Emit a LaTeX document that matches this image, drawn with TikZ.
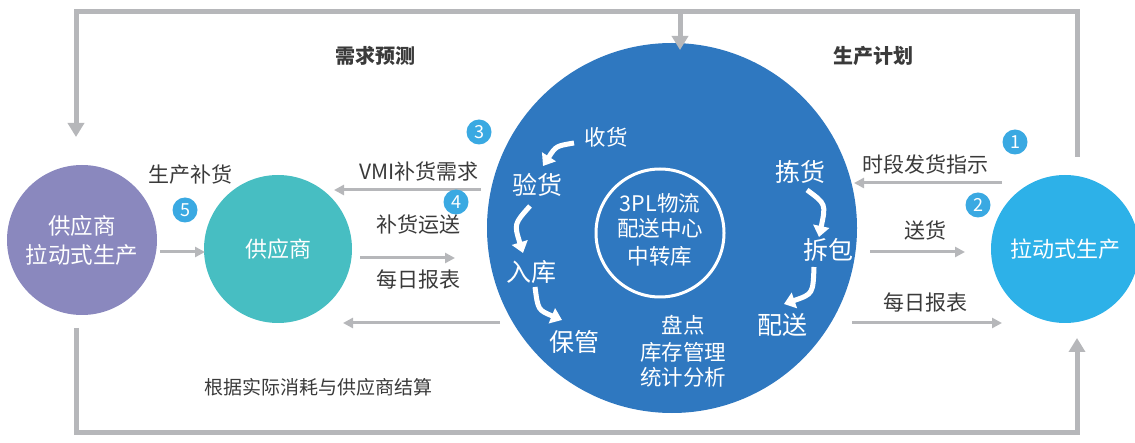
\documentclass[tikz,border=0pt]{standalone}
\usepackage{fontspec}
\setmainfont{Noto Sans CJK SC}
\usetikzlibrary{arrows.meta}
\definecolor{bigblue}{HTML}{2F78C0}
\definecolor{purplec}{HTML}{8A88BE}
\definecolor{tealc}{HTML}{47BEC2}
\definecolor{lightb}{HTML}{2DB1E8}
\definecolor{grayl}{HTML}{B6B7BA}
\definecolor{badgec}{HTML}{3AA9E2}
\definecolor{txt}{HTML}{3A3A3A}
\tikzset{
  frame/.style={draw=grayl, line width=5pt},
  framearrow/.style={frame, -{Triangle[length=14pt,width=16pt]}},
  garrow/.style={draw=grayl, line width=3pt, -{Triangle[length=10pt,width=10pt]}},
  warrow/.style={draw=white, line width=5pt, -{Triangle[length=11pt,width=16pt]}},
  lab/.style={text=txt, font=\fontsize{21}{23}\selectfont, inner sep=0pt},
  ttl/.style={text=txt, font=\bfseries\fontsize{20}{22}\selectfont, inner sep=0pt},
  intxt/.style={text=white, font=\fontsize{25}{27}\selectfont, inner sep=0pt},
  midtxt/.style={text=white, font=\fontsize{21.5}{23}\selectfont, inner sep=0pt},
  badge/.style={circle, fill=badgec, text=white, minimum size=25pt, inner sep=0pt, font=\fontsize{18}{18}\selectfont},
  bigcirc/.style={circle, inner sep=0pt, text=white, align=center, font=\fontsize{22.5}{29}\selectfont},
}
\begin{document}
\begin{tikzpicture}[x=1pt,y=-1pt]
\useasboundingbox (0,0) rectangle (1135,443);
% main circles
\node[bigcirc, fill=bigblue, minimum size=370pt] (hub) at (672,228) {};
\node[circle, draw=white, line width=3pt, minimum size=128pt, inner sep=0pt] (core) at (660,233) {};
\node[bigcirc, fill=purplec, minimum size=150pt] (spull) at (82,240) {供应商\\拉动式生产};
\node[bigcirc, fill=tealc, minimum size=148pt, font=\fontsize{22}{24}\selectfont] (supp) at (278,249) {供应商};
\node[bigcirc, fill=lightb, minimum size=148pt, font=\fontsize{22}{24}\selectfont] (pull) at (1065,249) {拉动式生产};

% outer frame
\coordinate (rtop) at (1077,157);
\coordinate (tr) at (1077,12);
\coordinate (tl) at (76,12);
\coordinate (ltip) at (76,137);
\coordinate (mtop) at (680,12);
\coordinate (mtip) at (680,50);
\coordinate (lbot) at (76,328);
\coordinate (bl) at (76,432);
\coordinate (br) at (1077,432);
\coordinate (rtip) at (1077,338);
\draw[framearrow] (rtop) -- (tr) -- (tl) -- (ltip);
\draw[framearrow] (mtop) -- (mtip);
\draw[framearrow] (lbot) -- (bl) -- (br) -- (rtip);

% titles
\node[ttl] (t1) at (375,56) {需求预测};
\node[ttl] (t2) at (873,56) {生产计划};

% left connectors
\coordinate (a1s) at (160,252); \coordinate (a1e) at (205,252);
\draw[garrow] (a1s) -- (a1e);
\node[lab] (l5) at (190,175) {生产补货};
\node[badge] (b5) at (185,210) {5};
\coordinate (a2s) at (481,190); \coordinate (a2e) at (334,190);
\draw[garrow] (a2s) -- (a2e);
\node[lab] (lvmi) at (419,171) {VMI补货需求};
\node[badge] (b3) at (479,132) {3};
\node[badge] (b4) at (456,202) {4};
\node[lab] (lbh) at (418,225) {补货运送};
\coordinate (a3s) at (360,258); \coordinate (a3e) at (455,258);
\draw[garrow] (a3s) -- (a3e);
\node[lab] (lrep1) at (418,279) {每日报表};
\coordinate (a4s) at (500,323); \coordinate (a4e) at (343,323);
\draw[garrow] (a4s) -- (a4e);
\node[lab, font=\fontsize{19}{21}\selectfont] (lsettle) at (318,387) {根据实际消耗与供应商结算};

% right connectors
\node[badge] (b1) at (1015,142) {1};
\node[badge] (b2) at (978,205) {2};
\node[lab] (lzd) at (925,165) {时段发货指示};
\coordinate (a5s) at (1002,183); \coordinate (a5e) at (854,183);
\draw[garrow] (a5s) -- (a5e);
\node[lab] (lsh) at (925,230) {送货};
\coordinate (a6s) at (870,252); \coordinate (a6e) at (965,252);
\draw[garrow] (a6s) -- (a6e);
\node[lab] (lrep2) at (925,302) {每日报表};
\coordinate (a7s) at (852,323); \coordinate (a7e) at (1002,323);
\draw[garrow] (a7s) -- (a7e);

% inner texts
\node[midtxt] (c1) at (660,203) {3PL物流};
\node[midtxt] (c2) at (660,228) {配送中心};
\node[midtxt] (c3) at (660,256) {中转库};
\node[midtxt] (sh) at (606,137) {收货};
\node[intxt] (yh) at (537,185) {验货};
\node[intxt] (rk) at (531,272) {入库};
\node[intxt] (bg) at (574,342) {保管};
\node[midtxt] (pd) at (683,325) {盘点};
\node[midtxt] (kc) at (683,352) {库存管理};
\node[midtxt] (tj) at (683,377) {统计分析};
\node[intxt] (jh) at (800,172) {拣货};
\node[intxt] (cb) at (828,250) {拆包};
\node[intxt] (ps) at (782,325) {配送};

% curved white arrows
\draw[warrow] (574,143) .. controls (556,146) .. (543,166);
\draw[warrow] (530,206) .. controls (514,224) .. (523,253);
\draw[warrow] (535,287) .. controls (538,310) .. (562,320);
\draw[warrow] (807,190) .. controls (826,204) .. (819,237);
\draw[warrow] (814,267) .. controls (813,294) .. (784,304);
\end{tikzpicture}
\end{document}
